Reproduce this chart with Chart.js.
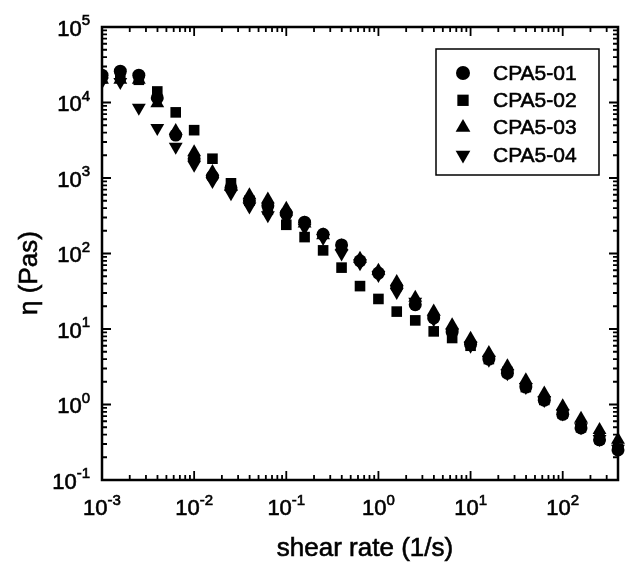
<!DOCTYPE html>
<html>
<head>
<meta charset="utf-8">
<script src="https://cdn.jsdelivr.net/npm/chart.js@4.4.0/dist/chart.umd.min.js"></script>
<style>
  html, body { margin: 0; padding: 0; background: #fff; }
  canvas { display: block; }
</style>
</head>
<body>
<canvas id="chart" width="626" height="565"></canvas>
<script>
// shear rate (1/s), 5 points per decade
var shearRate = [0.001, 0.00158, 0.00251, 0.00398, 0.00631, 0.01, 0.0158, 0.0251, 0.0398, 0.0631,
                 0.1, 0.158, 0.251, 0.398, 0.631, 1, 1.58, 2.51, 3.98, 6.31,
                 10, 15.8, 25.1, 39.8, 63.1, 100, 158, 251, 398];

// viscosity eta (Pas) per sample
var cpa01 = [2.3e4, 2.6e4, 2.3e4, 1.15e4, 3.7e3, 1.8e3, 1.05e3, 740, 500, 430,
             340, 260, 180, 130, 80, 55, 36, 21, 14, 9.1,
             6.3, 4.0, 2.6, 1.7, 1.14, 0.74, 0.49, 0.34, 0.25];
var cpa02 = [2.1e4, 2.2e4, 2.0e4, 1.4e4, 7.4e3, 4.3e3, 1.8e3, 850, 500, 380,
             240, 165, 110, 65, 37, 25, 17, 13, 9.3, 7.6,
             6.0, 4.0, 2.7, 1.7, 1.15, 0.76, 0.5, 0.35, 0.26];
var cpa03 = [2.0e4, 2.0e4, 2.0e4, 9.8e3, 4.2e3, 2.2e3, 1.2e3, 760, 590, 520,
             390, 250, 175, 125, 85, 59, 42, 26, 17, 11.2,
             7.4, 4.8, 3.2, 2.1, 1.4, 0.95, 0.65, 0.46, 0.34];
var cpa04 = [1.9e4, 1.87e4, 8.5e3, 4.6e3, 2.6e3, 1.5e3, 910, 630, 420, 320,
             290, 220, 160, 100, 74, 52, 31, 23, 13.5, 8.9,
             6.0, 3.9, 2.6, 1.7, 1.15, 0.76, 0.5, 0.35, 0.26];

var seriesNames = ['CPA5-01', 'CPA5-02', 'CPA5-03', 'CPA5-04'];
var xTickExp = [-3, -2, -1, 0, 1, 2];
var yTickExp = [-1, 0, 1, 2, 3, 4, 5];

var FONT = '"Liberation Sans", Arial, Helvetica, sans-serif';

function pts(ys) {
  return shearRate.map(function(x, i) { return { x: x, y: ys[i] }; });
}

function ds(label, ys, style, radius, rotation) {
  return {
    label: label, data: pts(ys),
    pointStyle: style, pointRadius: radius, pointRotation: rotation || 0,
    pointHoverRadius: radius,
    backgroundColor: '#000', borderColor: '#000', borderWidth: 0,
    showLine: false,
    clip: { left: 0, top: false, right: false, bottom: false }
  };
}

// text with a thin outline so it reads a bit heavier
function txt(ctx, s, x, y) {
  ctx.fillText(s, x, y);
  ctx.strokeText(s, x, y);
}

// power-of-ten label: "10" with raised exponent
function drawPow(ctx, exp, x, y, align) {
  ctx.font = '22px ' + FONT;
  var wb = ctx.measureText('10').width;
  ctx.font = '15px ' + FONT;
  var es = String(exp);
  var we = ctx.measureText(es).width;
  var total = wb + we;
  var x0 = align === 'right' ? x - total : x - total / 2;
  ctx.textAlign = 'left';
  ctx.textBaseline = 'alphabetic';
  ctx.font = '22px ' + FONT;
  txt(ctx, '10', x0, y);
  ctx.font = '15px ' + FONT;
  txt(ctx, es, x0 + wb, y - 10.5);
}

var frame = {
  id: 'frame',
  afterDatasetsDraw: function(chart) {
    var ctx = chart.ctx, a = chart.chartArea;
    var xs = chart.scales.x, ys = chart.scales.y;
    ctx.save();
    ctx.strokeStyle = '#000';
    ctx.fillStyle = '#000';

    // box
    ctx.lineWidth = 2.5;
    ctx.strokeRect(a.left, a.top, a.right - a.left, a.bottom - a.top);

    // inward ticks, majors on decades, minors 2..9
    ctx.lineWidth = 1.8;
    ctx.beginPath();
    var d, k, v, p, len;
    for (d = -3; d <= 2; d++) {
      for (k = 1; k <= 9; k++) {
        v = k * Math.pow(10, d);
        if (v < xs.min || v > xs.max) continue;
        p = xs.getPixelForValue(v);
        len = k === 1 ? 9 : 5;
        ctx.moveTo(p, a.bottom); ctx.lineTo(p, a.bottom - len);
        ctx.moveTo(p, a.top); ctx.lineTo(p, a.top + len);
      }
    }
    for (d = -1; d <= 5; d++) {
      for (k = 1; k <= 9; k++) {
        v = k * Math.pow(10, d);
        if (v < ys.min || v > ys.max) continue;
        p = ys.getPixelForValue(v);
        len = k === 1 ? 9 : 5;
        ctx.moveTo(a.left, p); ctx.lineTo(a.left + len, p);
        ctx.moveTo(a.right, p); ctx.lineTo(a.right - len, p);
      }
    }
    ctx.stroke();

    // tick labels
    ctx.lineWidth = 0.6;
    xTickExp.forEach(function(e) {
      drawPow(ctx, e, xs.getPixelForValue(Math.pow(10, e)), a.bottom + 35, 'center');
    });
    yTickExp.forEach(function(e) {
      drawPow(ctx, e, a.left - 12, ys.getPixelForValue(Math.pow(10, e)) + 8.5, 'right');
    });

    // axis titles
    ctx.font = '26px ' + FONT;
    ctx.textAlign = 'center';
    ctx.textBaseline = 'alphabetic';
    txt(ctx, 'shear rate (1/s)', 365, 556);
    ctx.save();
    ctx.translate(37, 273);
    ctx.rotate(-Math.PI / 2);
    txt(ctx, '\u03B7 (Pas)', 0, 0);
    ctx.restore();

    // legend box
    var lx = 436, ly = 49, lw = 163, lh = 126;
    ctx.lineWidth = 1.5;
    ctx.strokeRect(lx, ly, lw, lh);
    ctx.font = '21px ' + FONT;
    ctx.textAlign = 'left';
    ctx.textBaseline = 'middle';
    ctx.lineWidth = 0.6;
    chart.data.datasets.forEach(function(set, i) {
      var cy = 73 + i * 27.3;
      Chart.helpers.drawPoint(ctx, {
        pointStyle: set.pointStyle, rotation: set.pointRotation,
        radius: set.pointRadius + 0.5, borderWidth: 0
      }, 463, cy);
      txt(ctx, seriesNames[i], 493, cy + 1);
    });
    ctx.restore();
  }
};

new Chart(document.getElementById('chart'), {
  type: 'scatter',
  data: {
    datasets: [
      ds(seriesNames[0], cpa01, 'circle', 6.5),
      ds(seriesNames[1], cpa02, 'rect', 7.5),
      ds(seriesNames[2], cpa03, 'triangle', 8),
      ds(seriesNames[3], cpa04, 'triangle', 8, 180)
    ]
  },
  options: {
    responsive: false,
    animation: false,
    events: [],
    layout: { padding: { left: 102, right: 4, top: 27, bottom: 85 } },
    plugins: { legend: { display: false }, tooltip: { enabled: false } },
    scales: {
      x: { type: 'logarithmic', display: false, min: 0.001, max: Math.pow(10, 2.6) },
      y: { type: 'logarithmic', display: false, min: 0.1, max: 1e5 }
    }
  },
  plugins: [frame]
});
</script>
</body>
</html>
